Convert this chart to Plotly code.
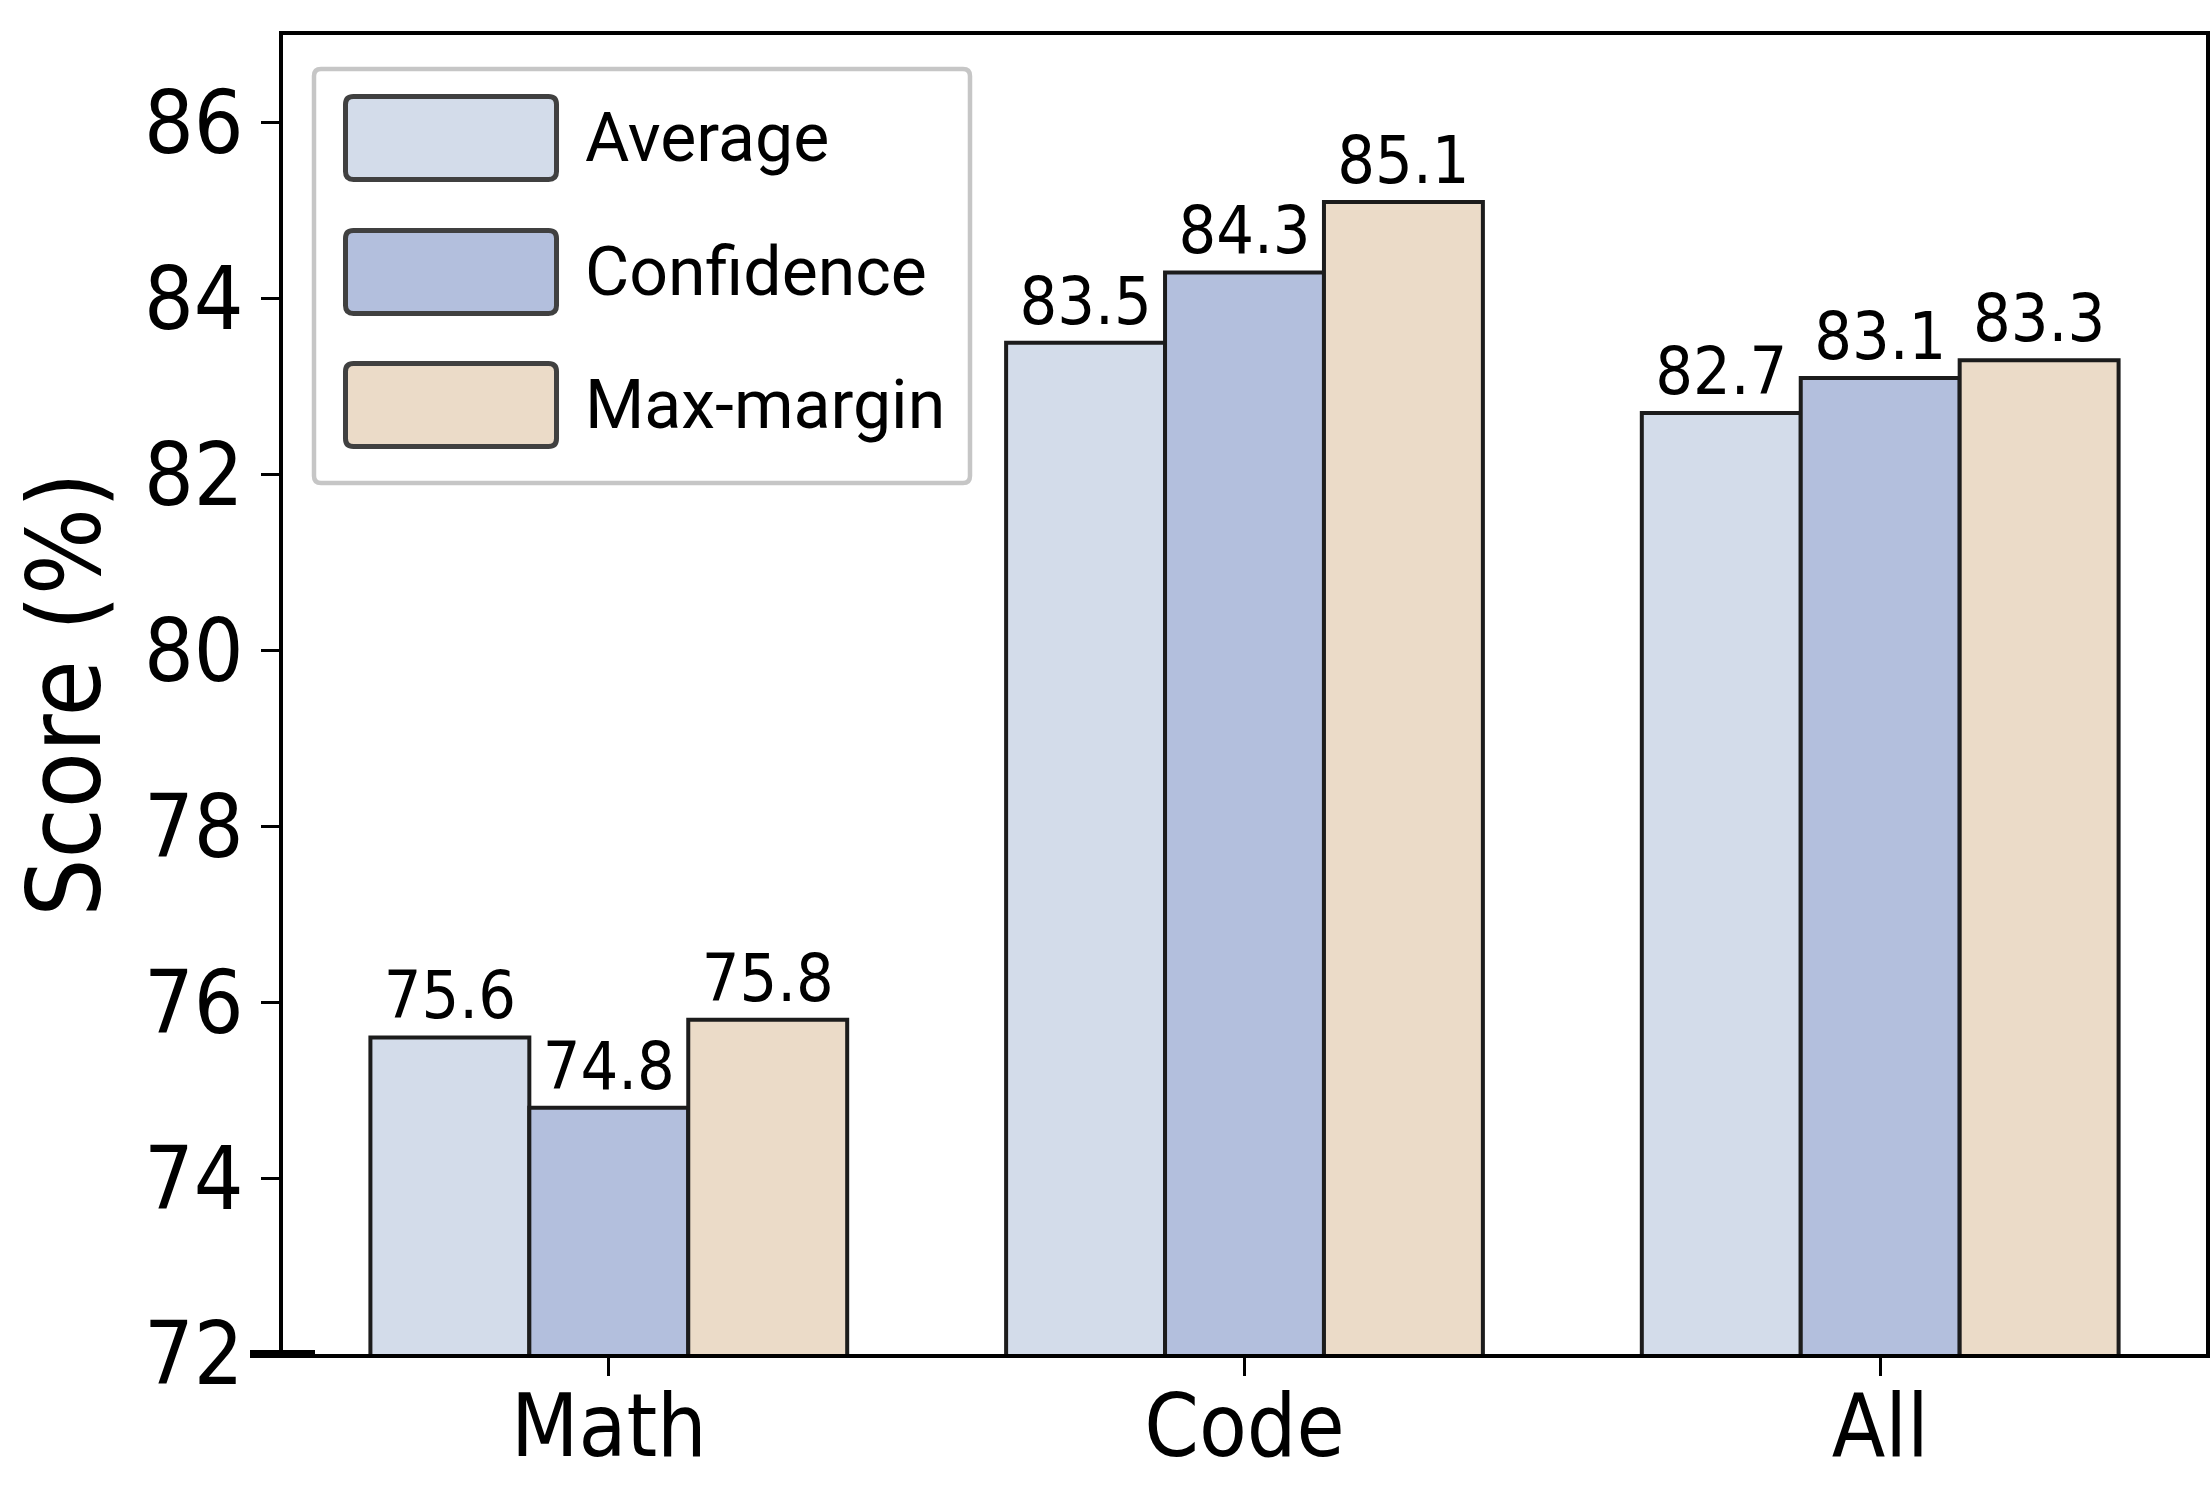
import plotly.graph_objects as go

categories = ["Math", "Code", "All"]
series_names = ["Average", "Confidence", "Max-margin"]
average = [75.6, 83.5, 82.7]
confidence = [74.8, 84.3, 83.1]
max_margin = [75.8, 85.1, 83.3]
series_values = [average, confidence, max_margin]
colors = ["#D3DCEA", "#B3BFDD", "#EBDBC8"]
y_ticks = [72, 74, 76, 78, 80, 82, 84, 86]

W, H = 2212, 1489
L, R, T, B = 283, 2206, 35, 1354  # plot area in px

FONT = "DejaVu Sans Condensed, DejaVu Sans, sans-serif"

fig = go.Figure()
for name, vals, col in zip(series_names, series_values, colors):
    fig.add_trace(go.Bar(
        x=categories, y=vals, name=name,
        marker=dict(color=col, line=dict(color="#1c1c1c", width=4)),
        text=[f"{v:.1f}" for v in vals], textposition="outside", constraintext="none",
        textfont=dict(family=FONT, size=66, color="black"),
        cliponaxis=False, showlegend=False,
    ))

def px_x(p):
    return (p - L) / (R - L)

def px_y(p):
    return (B - p) / (B - T)

def rrect(x0, y0, x1, y1, r):
    def P(x, y):
        return f"{px_x(x):.5f},{px_y(y):.5f}"
    return (f"M {P(x0 + r, y0)} L {P(x1 - r, y0)} Q {P(x1, y0)} {P(x1, y0 + r)} "
            f"L {P(x1, y1 - r)} Q {P(x1, y1)} {P(x1 - r, y1)} "
            f"L {P(x0 + r, y1)} Q {P(x0, y1)} {P(x0, y1 - r)} "
            f"L {P(x0, y0 + r)} Q {P(x0, y0)} {P(x0 + r, y0)} Z")

shapes = []
annotations = []
# legend frame
shapes.append(dict(type="path", xref="paper", yref="paper",
                   path=rrect(314, 69, 970, 483, 7),
                   fillcolor="white", line=dict(color="#C6C6C6", width=4.5), layer="above"))
sw_tops = [94, 228, 361]
sw_h = 88
for i, (name, col) in enumerate(zip(series_names, colors)):
    y0 = sw_tops[i]
    shapes.append(dict(type="path", xref="paper", yref="paper",
                       path=rrect(345.5, y0 + 2.5, 556.5, y0 + sw_h - 2.5, 8),
                       fillcolor=col, line=dict(color="#404040", width=5), layer="above"))
    annotations.append(dict(xref="paper", yref="paper", x=px_x(583), y=px_y(y0 + sw_h / 2),
                            xanchor="left", yanchor="middle", text=name, showarrow=False,
                            font=dict(family="Roboto, sans-serif", size=68, color="black")))

# thick stub at the 72 tick
shapes.append(dict(type="line", xref="paper", yref="paper", x0=px_x(250), x1=px_x(315), y0=0, y1=0,
                   line=dict(color="black", width=8), layer="above"))

fig.update_layout(
    width=W, height=H,
    margin=dict(l=L, r=W - R, t=T, b=H - B, autoexpand=False),
    paper_bgcolor="white", plot_bgcolor="white",
    barmode="group", bargap=0.25, bargroupgap=0,
    shapes=shapes, annotations=annotations,
    xaxis=dict(range=[-0.5125, 2.5125], showline=True, linecolor="black", linewidth=4, mirror=True,
               ticks="outside", ticklen=18, tickwidth=3, tickcolor="black",
               tickfont=dict(family=FONT, size=87, color="black"), ticklabelstandoff=-24,
               showgrid=False, zeroline=False),
    yaxis=dict(range=[72, 87], tickvals=y_ticks, showline=True, linecolor="black", linewidth=4, mirror=True,
               ticks="outside", ticklen=18, tickwidth=3, tickcolor="black",
               tickfont=dict(family=FONT, size=87, color="black"), ticklabelstandoff=0,
               showgrid=False, zeroline=False,
               title=dict(text="Score (%)", font=dict(family=FONT, size=102, color="black"), standoff=10)),
)

fig.write_html("out.html")
